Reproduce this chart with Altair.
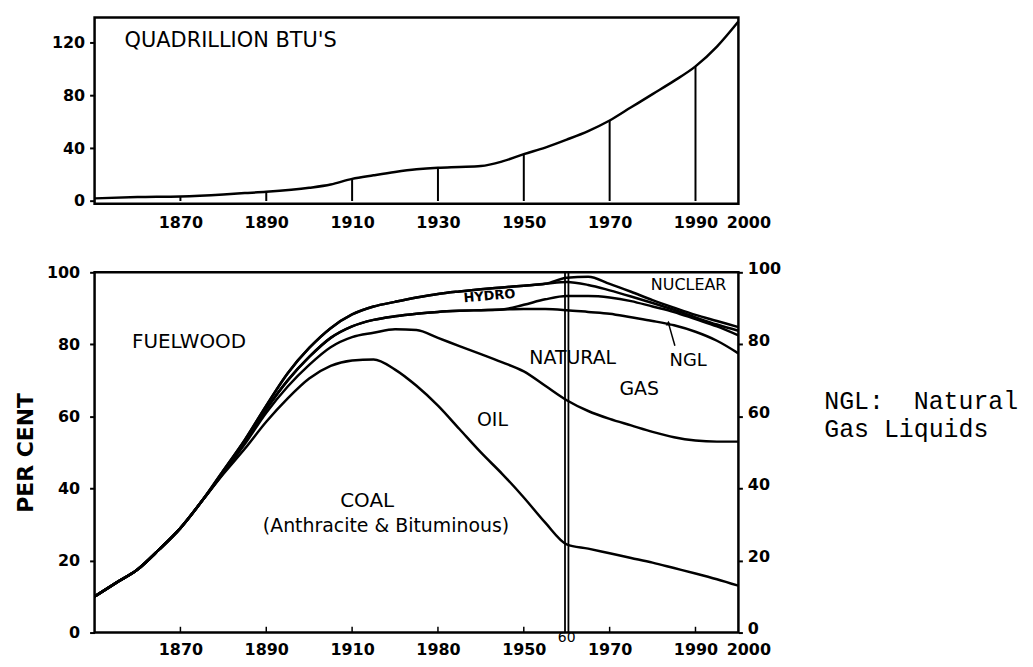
import altair as alt
import pandas as pd

# ---------------- data ----------------
# Top panel: total energy consumption, quadrillion BTU
years_top = [1850, 1860, 1870, 1880, 1885, 1890, 1900, 1905, 1910, 1915, 1920, 1925, 1930,
             1935, 1940, 1945, 1950, 1955, 1960, 1965, 1970, 1975, 1980, 1985, 1990, 1995, 2000]
btu = [2, 3, 3.5, 5, 6, 7, 10, 12.5, 16.8, 19.5, 22, 24, 25.2,
       25.8, 26.5, 30, 35.5, 40.5, 46.5, 53, 61, 71, 81, 91, 102, 117, 136]
drop_years = [1870, 1890, 1910, 1930, 1950, 1970, 1990]
top_tick_values = [1870, 1890, 1910, 1930, 1950, 1970, 1990, 2000]
top_y_ticks = [0, 40, 80, 120]

# Bottom panel: cumulative shares (per cent), boundaries from bottom to top
years_b = [1850, 1855, 1860, 1865, 1870, 1875, 1880, 1885, 1890, 1895, 1900, 1905, 1910, 1915,
           1920, 1925, 1930, 1935, 1940, 1945, 1950, 1955, 1960, 1965, 1970, 1975, 1980, 1985,
           1990, 1995, 2000]
coal = [10, 13.8, 17.5, 23, 29, 36.5, 44, 51, 58.5, 65, 70.5, 74, 75.5, 75.8,
        73, 68.5, 63, 56.5, 50, 44, 37.5, 30.5, 24.5, 23.3, 22, 20.7, 19.4, 17.9,
        16.4, 14.8, 13]
oil = [10, 13.8, 17.5, 23, 29, 36.5, 44.3, 52.3, 61, 68.3, 74.3, 79.2, 82, 83.2,
       84.2, 84, 81.8, 79.5, 77.3, 75, 72.5, 68.5, 64.5, 61.5, 59.3, 57.5, 55.7, 54.2,
       53.3, 53, 53]
gas = [10, 13.8, 17.5, 23, 29, 36.5, 44.5, 52.8, 62, 70, 76.5, 81.8, 85, 86.8,
       87.8, 88.5, 89, 89.3, 89.5, 89.7, 89.8, 89.8, 89.5, 89, 88.5, 87.5, 86.5, 85.3,
       83.5, 81, 77.5]
ngl = [10, 13.8, 17.5, 23, 29, 36.5, 44.5, 52.8, 62, 70, 76.5, 81.8, 85, 86.8,
       87.8, 88.5, 89, 89.3, 89.5, 89.7, 91, 92.5, 93.4, 93.4, 93, 92, 90.5, 89,
       87, 85, 82.5]
hydro = [10, 13.8, 17.5, 23, 29, 36.5, 45, 53.5, 63, 72, 79, 84.5, 88.3, 90.5,
         91.8, 93, 94, 94.7, 95.3, 95.8, 96.3, 96.8, 97.3, 96.5, 95, 93.3, 91.5, 89.6,
         87.5, 85.5, 83.8]
nuclear = [10, 13.8, 17.5, 23, 29, 36.5, 45, 53.5, 63, 72, 79, 84.5, 88.3, 90.5,
           91.8, 93, 94, 94.7, 95.3, 95.8, 96.3, 96.8, 98.5, 98.8, 96.8, 94.6, 92.3, 90.2,
           88.2, 86.5, 84.8]
bottom_tick_values = [1870, 1890, 1910, 1930, 1950, 1970, 1990, 2000]
inner_tick_years = [1870, 1890, 1910, 1930, 1950, 1970, 1990]
marker_1960 = [1959.6, 1960.4]
bottom_y_ticks = [0, 20, 40, 60, 80, 100]

# annotations (text, year, value, font size)
top_notes = [("QUADRILLION BTU'S", 1857, 121)]
bottom_notes = [
    ("FUELWOOD", 1872, 80.7, 20),
    ("NATURAL", 1961.4, 76.2, 19),
    ("GAS", 1976.9, 67.7, 19),
    ("NGL", 1988.3, 75.4, 18),
    ("OIL", 1942.7, 59.1, 19),
    ("COAL", 1913.5, 36.5, 20),
    ("(Anthracite & Bituminous)", 1917.9, 29.6, 19),
    ("NUCLEAR", 1988.4, 96.6, 16),
]
hydro_note = ("HYDRO", 1942, 93.4)
ngl_arrow_year = [1985.2, 1983.7]
ngl_arrow_val = [79.6, 85.9]
note_text = "NGL:\u00a0\u00a0Natural\nGas Liquids"
note_pos = (2020.0, 62.0)

# ---------------- styling ----------------
FONT = "DejaVu Sans"
W = 647
H_TOP = 187
H_BOT = 362
TICK_FS = 16
X_LABEL_SHIFT = {"condition": {"test": "datum.value == 2000", "value": 10}, "value": 0}

# ---------------- top panel ----------------
df_top = pd.DataFrame({"year": years_top, "btu": btu})
x_top_scale = alt.Scale(domain=[1850, 2000], nice=False, zero=False)
y_top_scale = alt.Scale(domain=[-2, 139], nice=False, zero=False)

top_line = alt.Chart(df_top).mark_line(color="black", strokeWidth=2.5, interpolate="monotone").encode(
    x=alt.X("year:Q", scale=x_top_scale,
            axis=alt.Axis(values=top_tick_values, format="d", title=None, ticks=False,
                          labelPadding=11, labelFont=FONT, labelFontSize=TICK_FS,
                          labelFontWeight="bold", labelColor="black", labelFlush=False,
                          labelOverlap=False, labelOffset=X_LABEL_SHIFT,
                          grid=False, domain=False)),
    y=alt.Y("btu:Q", scale=y_top_scale,
            axis=alt.Axis(values=top_y_ticks, title=None, tickSize=5, tickWidth=2,
                          tickColor="black", labelPadding=5, labelFont=FONT,
                          labelFontSize=TICK_FS, labelFontWeight="bold", labelColor="black",
                          labelOverlap=False, grid=False, domain=False)),
)
top_drops = alt.Chart(df_top).transform_filter(
    alt.FieldOneOfPredicate(field="year", oneOf=drop_years)
).transform_calculate(base="0").mark_rule(color="black", strokeWidth=2).encode(
    x=alt.X("year:Q", scale=x_top_scale),
    y=alt.Y("base:Q", scale=y_top_scale),
    y2="btu:Q",
)

df_top_notes = pd.DataFrame(top_notes, columns=["text", "year", "value"])
top_text = alt.Chart(df_top_notes).mark_text(
    align="left", baseline="middle", font=FONT, fontSize=21, color="black"
).encode(x=alt.X("year:Q", scale=x_top_scale), y=alt.Y("value:Q", scale=y_top_scale),
         text="text:N")

top_chart = alt.layer(top_line, top_drops, top_text).properties(width=W, height=H_TOP)

# ---------------- bottom panel ----------------
series = [("coal", coal), ("oil", oil), ("gas", gas), ("ngl", ngl),
          ("hydro", hydro), ("nuclear", nuclear)]
rows = []
for name, arr in series:
    for yr, v in zip(years_b, arr):
        rows.append({"year": yr, "value": v, "series": name})
df_b = pd.DataFrame(rows)

x_b_scale = alt.Scale(domain=[1850, 2000], nice=False, zero=False)
y_b_scale = alt.Scale(domain=[0, 100], nice=False)


def xb(field="year:Q"):
    return alt.X(field, scale=x_b_scale)


def yb(field="value:Q"):
    return alt.Y(field, scale=y_b_scale, axis=None)


lines_b = alt.Chart(df_b).mark_line(color="black", strokeWidth=2.5, interpolate="monotone").encode(
    x=alt.X("year:Q", scale=x_b_scale,
            axis=alt.Axis(values=bottom_tick_values, format="d", title=None, ticks=False,
                          labelPadding=9, labelFont=FONT, labelFontSize=TICK_FS,
                          labelFontWeight="bold", labelColor="black", labelFlush=False,
                          labelOverlap=False, labelOffset=X_LABEL_SHIFT,
                          grid=False, domain=False,
                          labelExpr="datum.value == 1930 ? '1980' : datum.label")),
    y=alt.Y("value:Q", scale=y_b_scale,
            axis=alt.Axis(values=bottom_y_ticks, title="PER CENT", orient="left",
                          tickSize=5, tickWidth=2, tickColor="black", labelPadding=10,
                          labelFont=FONT, labelFontSize=TICK_FS, labelFontWeight="bold",
                          labelColor="black", titleFont=FONT, titleFontSize=22,
                          titleFontWeight="bold", titleColor="black", titlePadding=9,
                          labelOverlap=False, grid=False, domain=False)),
    detail="series:N",
)

right_axis = alt.Chart(pd.DataFrame({"year": [1850] * len(bottom_y_ticks),
                                     "v": bottom_y_ticks})).mark_point(opacity=0).encode(
    x=xb(),
    y=alt.Y("v:Q", scale=y_b_scale,
            axis=alt.Axis(values=bottom_y_ticks, title=None, orient="right",
                          tickSize=4, tickWidth=2, tickColor="black", labelPadding=5,
                          labelOffset=-4,
                          labelFont=FONT, labelFontSize=TICK_FS, labelFontWeight="bold",
                          labelColor="black", labelOverlap=False, grid=False, domain=False)),
)

inner_ticks = alt.Chart(pd.DataFrame({"year": inner_tick_years})).transform_calculate(
    lo="0", hi="1.6"
).mark_rule(color="black", strokeWidth=1.5).encode(x=xb(), y=yb("lo:Q"), y2="hi:Q")

vline = alt.Chart(pd.DataFrame({"year": marker_1960})).transform_calculate(
    lo="0", hi="100"
).mark_rule(color="black", strokeWidth=1.8).encode(x=xb(), y=yb("lo:Q"), y2="hi:Q")

label_60 = alt.Chart(pd.DataFrame({"year": [1960], "value": [-1.5], "text": ["60"]})).mark_text(
    font=FONT, fontSize=14, color="black", baseline="middle"
).encode(x=xb(), y=yb(), text="text:N")

df_notes = pd.DataFrame(bottom_notes, columns=["text", "year", "value", "size"])
notes = alt.Chart(df_notes).mark_text(font=FONT, color="black", baseline="middle").encode(
    x=xb(), y=yb(), text="text:N",
    size=alt.Size("size:Q", scale=None, legend=None),
)

hydro_text = alt.Chart(pd.DataFrame({"text": [hydro_note[0]], "year": [hydro_note[1]],
                                     "value": [hydro_note[2]]})).mark_text(
    font=FONT, fontSize=13, fontWeight="bold", color="black", angle=355, baseline="middle"
).encode(x=xb(), y=yb(), text="text:N")

df_arrow = pd.DataFrame({"year": ngl_arrow_year, "value": ngl_arrow_val, "o": [0, 1]})
arrow_line = alt.Chart(df_arrow).mark_line(color="black", strokeWidth=1.5).encode(
    x=xb(), y=yb(), order="o:Q")
arrow_head = alt.Chart(df_arrow.iloc[[1]]).mark_point(
    shape="triangle-up", filled=True, color="black", size=30, opacity=1).encode(
    x=xb(), y=yb())

note = alt.Chart(pd.DataFrame({"year": [note_pos[0]], "value": [note_pos[1]],
                               "text": [note_text]})).mark_text(
    font="Liberation Mono", fontSize=25, color="black", align="left",
    baseline="alphabetic", lineBreak="\n", lineHeight=28
).encode(x=xb(), y=yb(), text="text:N")

bottom_chart = alt.layer(
    lines_b, inner_ticks, vline, label_60, notes, hydro_text, arrow_line, arrow_head, note,
    right_axis
).resolve_axis(y="independent").properties(width=W, height=H_BOT)

chart = alt.vconcat(top_chart, bottom_chart, spacing=26).configure_view(
    stroke="black", strokeWidth=2.5
).configure_axis(domain=False, grid=False)

chart.save("out.html", embed_options={"renderer": "svg", "actions": False})
